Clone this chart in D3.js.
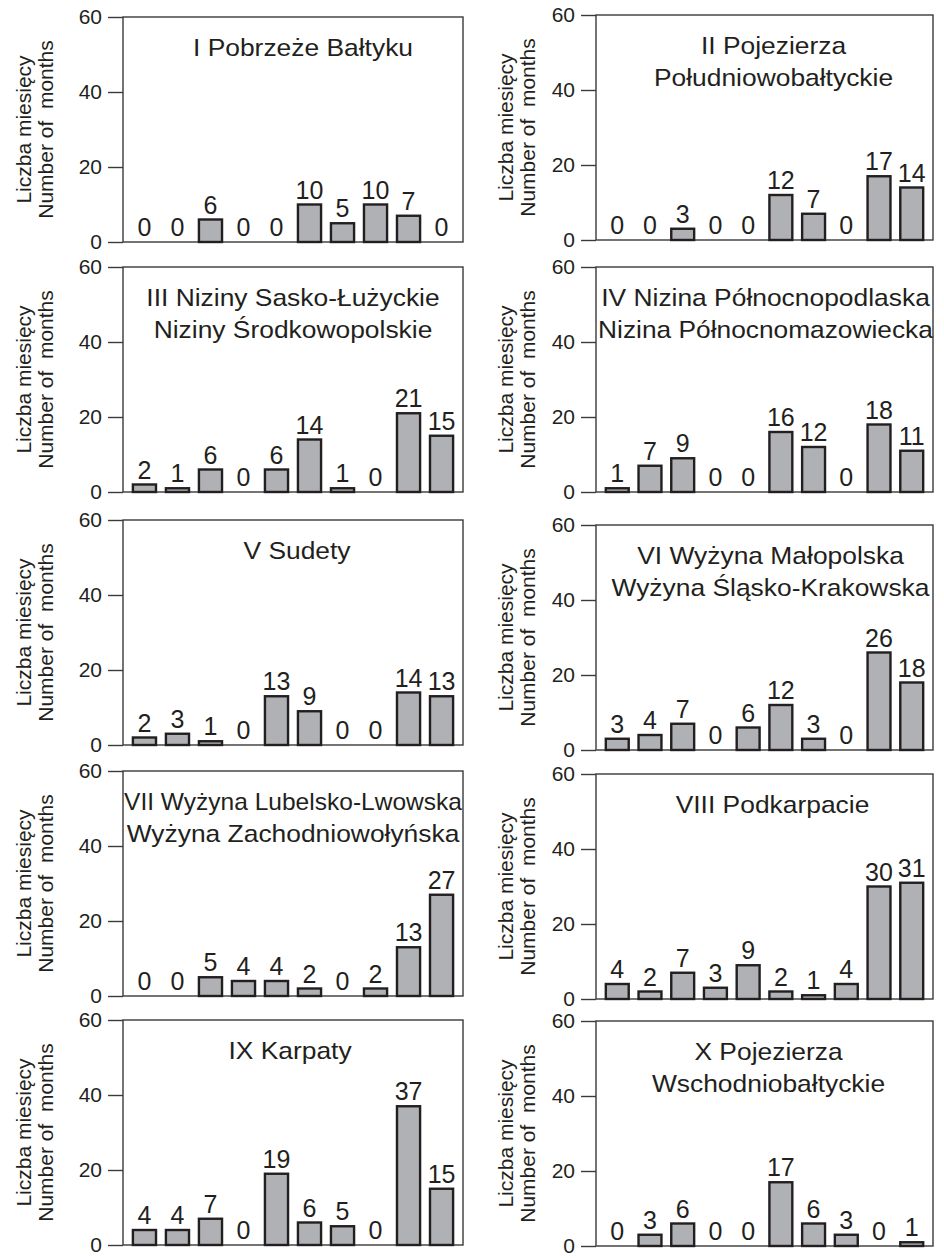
<!DOCTYPE html>
<html>
<head>
<meta charset="utf-8">
<script src="https://cdn.jsdelivr.net/npm/d3@7"></script>
<style>
  body { margin: 0; background: #fff; }
  svg text { font-family: "Liberation Sans", Arial, Helvetica, sans-serif; fill: #231f20; }
</style>
</head>
<body>
<svg id="chart" width="944" height="1258"></svg>
<script>
// ten classes along x (no labels printed under the bars)
const classes = ["1", "2", "3", "4", "5", "6", "7", "8", "9", "10"];
const yTicks = [0, 20, 40, 60];
const yLabelPl = "Liczba miesięcy";
const yLabelEn = "Number of  months";

// region titles (one entry per line)
const titles = [
    ["I Pobrzeże Bałtyku"],
    ["II Pojezierza", "Południowobałtyckie"],
    ["III Niziny Sasko-Łużyckie", "Niziny Środkowopolskie"],
    ["IV Nizina Północnopodlaska", "Nizina Północnomazowiecka"],
    ["V Sudety"],
    ["VI Wyżyna Małopolska", "Wyżyna Śląsko-Krakowska"],
    ["VII Wyżyna Lubelsko-Lwowska", "Wyżyna Zachodniowołyńska"],
    ["VIII Podkarpacie"],
    ["IX Karpaty"],
    ["X Pojezierza", "Wschodniobałtyckie"]
];

// number of months per class, for each region
const region1  = [0, 0, 6, 0, 0, 10, 5, 10, 7, 0];
const region2  = [0, 0, 3, 0, 0, 12, 7, 0, 17, 14];
const region3  = [2, 1, 6, 0, 6, 14, 1, 0, 21, 15];
const region4  = [1, 7, 9, 0, 0, 16, 12, 0, 18, 11];
const region5  = [2, 3, 1, 0, 13, 9, 0, 0, 14, 13];
const region6  = [3, 4, 7, 0, 6, 12, 3, 0, 26, 18];
const region7  = [0, 0, 5, 4, 4, 2, 0, 2, 13, 27];
const region8  = [4, 2, 7, 3, 9, 2, 1, 4, 30, 31];
const region9  = [4, 4, 7, 0, 19, 6, 5, 0, 37, 15];
const region10 = [0, 3, 6, 0, 0, 17, 6, 3, 0, 1];
const regions = [region1, region2, region3, region4, region5,
                 region6, region7, region8, region9, region10];

// layout (panel frames are slightly uneven in the original figure)
const cols = [
    { left: 123, right: 463, tops: [17, 267, 520, 771, 1020], lab1: -92, lab2: -70 },
    { left: 596, right: 933, tops: [15, 267, 525, 774, 1021], lab1: -83, lab2: -61 }
];
const plotH = 225;
const titleShift = [10, 9, 0, 1, 4, 6, 0, 8, -3, 4];

const svg = d3.select("#chart");

regions.forEach(function(vals, i) {
    let col = cols[i % 2];
    let top = col.tops[Math.floor(i / 2)];
    let width = col.right - col.left;

    let x = d3.scaleBand().domain(classes).range([0, width])
              .paddingInner(0.3).paddingOuter(0.3);
    let y = d3.scaleLinear().domain([0, 60]).range([plotH, 0]);

    let g = svg.append("g").attr("transform", "translate(" + col.left + "," + top + ")");

    // frame
    g.append("rect")
     .attr("x", 0).attr("y", 0).attr("width", width).attr("height", plotH)
     .attr("fill", "none").attr("stroke", "#3a3a3a").attr("stroke-width", 1.4);

    // y axis
    let ax = g.append("g")
     .call(d3.axisLeft(y).tickValues(yTicks).tickSize(15).tickPadding(6));
    ax.select(".domain").remove();
    ax.selectAll("line").attr("stroke", "#3a3a3a").attr("stroke-width", 1.4);
    ax.selectAll("text").style("font-size", "21px").attr("fill", "#231f20");

    // y label (two lines, rotated)
    [[yLabelPl, col.lab1], [yLabelEn, col.lab2]].forEach(function(l) {
        g.append("text")
         .attr("transform", "translate(" + l[1] + "," + (plotH / 2) + ") rotate(-90)")
         .attr("text-anchor", "middle")
         .style("font-size", "21px")
         .style("white-space", "pre")
         .text(l[0]);
    });

    // bars
    g.selectAll(".bar")
     .data(vals)
     .enter().append("rect")
     .attr("class", "bar")
     .attr("x", function(d, j) { return x(classes[j]); })
     .attr("y", function(d) { return y(d); })
     .attr("width", x.bandwidth())
     .attr("height", function(d) { return plotH - y(d); })
     .attr("fill", "#afb1b4")
     .attr("stroke", "#231f20")
     .attr("stroke-width", 2.4);

    // value labels
    g.selectAll(".val")
     .data(vals)
     .enter().append("text")
     .attr("class", "val")
     .attr("x", function(d, j) { return x(classes[j]) + x.bandwidth() / 2; })
     .attr("y", function(d) { return y(d) - 6; })
     .attr("text-anchor", "middle")
     .style("font-size", "25px")
     .text(function(d) { return d; });

    // title, slightly widened like the original lettering, shrunk to fit the frame
    titles[i].forEach(function(line, k) {
        let t = g.append("text")
         .attr("text-anchor", "middle")
         .style("font-size", "24px")
         .text(line);
        let w = t.node().getComputedTextLength();
        let sx = Math.min(1.1, (width - 2) / w);
        t.attr("transform", "translate(" + (width / 2 + titleShift[i]) + "," + (39 + k * 32) + ") scale(" + sx + ",1)");
    });
});
</script>
</body>
</html>
